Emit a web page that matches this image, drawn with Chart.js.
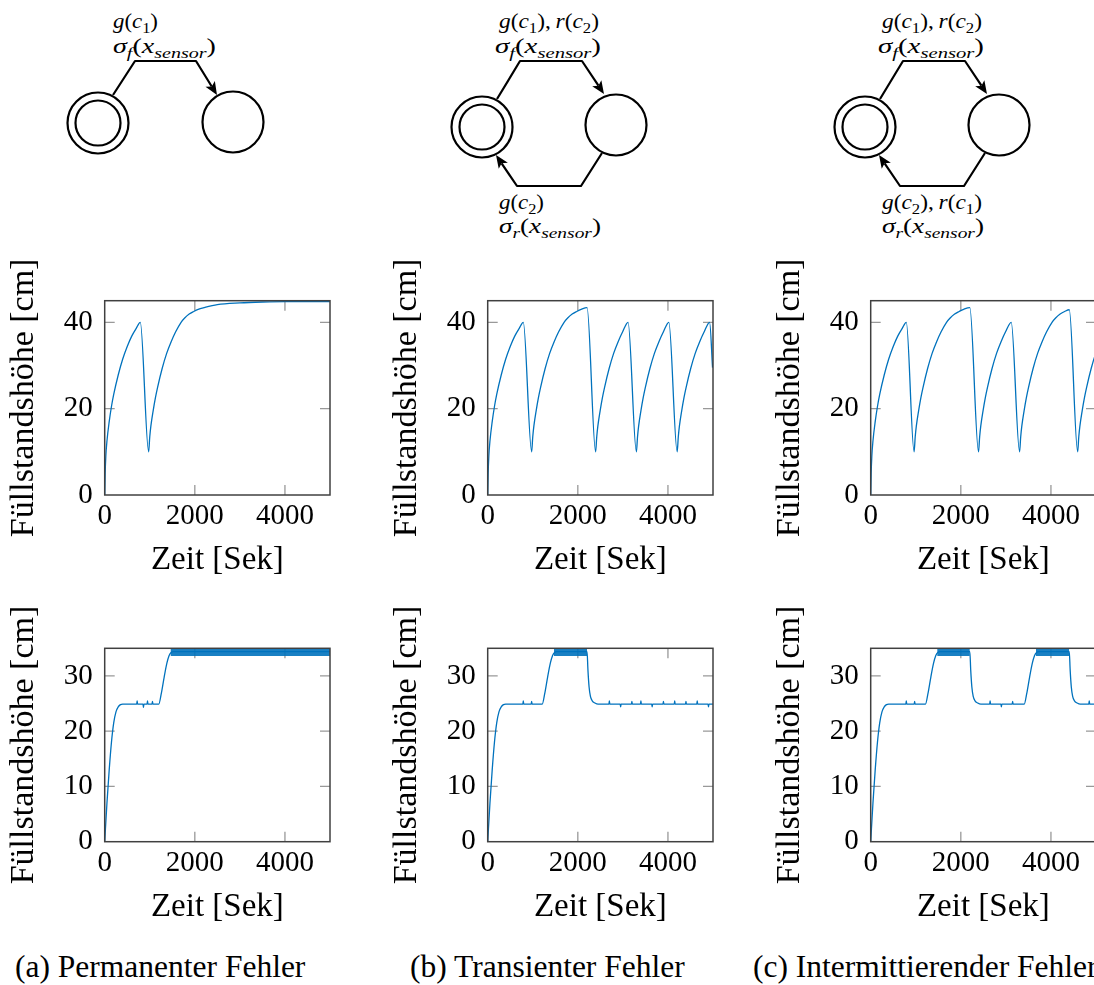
<!DOCTYPE html>
<html>
<head>
<meta charset="utf-8">
<script src="https://cdn.jsdelivr.net/npm/chart.js@4.4.0/dist/chart.umd.min.js"></script>
<style>
html, body { margin: 0; padding: 0; background: #fff; overflow: hidden; }
body { width: 1094px; height: 985px; position: relative; }
svg { position: absolute; left: 0; top: 0; }
canvas { position: absolute; }
</style>
</head>
<body>
<svg id="figure" width="1094" height="985"></svg>
<canvas id="topA" width="345" height="330" style="left:0px;top:250px"></canvas>
<canvas id="botA" width="345" height="327" style="left:0px;top:600px"></canvas>
<canvas id="topB" width="345" height="330" style="left:383px;top:250px"></canvas>
<canvas id="botB" width="345" height="327" style="left:383px;top:600px"></canvas>
<canvas id="topC" width="345" height="330" style="left:766px;top:250px"></canvas>
<canvas id="botC" width="345" height="327" style="left:766px;top:600px"></canvas>
<script>
// tick values
var xTickValues = [0, 2000, 4000];
var levelTicksTop = [0, 20, 40];
var levelTicksBottom = [0, 10, 20, 30];
var bandLevels = [33.6, 35];

// (a) permanent fault
var permTopTime  = [0,10,25,50,100,150,200,300,400,500,600,700,790, 975,1000,1025,1075,1125,1175,1275,1375,1475,1575,1695,1775,1875,1975,2075,2205, 2500,3000,3500,4000,5000];
var permTopLevel = [0,5,9,12.5,17,20.5,23.3,27.8,31.5,34.4,36.8,38.6,40, 10,13.5,16,19.5,22.5,25,29.3,32.8,35.5,37.8,40,41,41.9,42.5,43,43.4, 44.1,44.5,44.7,44.8,44.8];
var permBotTime  = [0,50,100,150,200,250,300,350,400, 710,720,730, 850,860,870, 940,950,960, 1050,1060,1070, 1200,1260,1320,1380,1430,1480,1520,5000];
var permBotLevel = [0,7,13,18,21.5,23.5,24.4,24.8,24.9, 24.9,25.5,24.9, 24.9,24.3,24.9, 24.9,25.5,24.9, 24.9,25.4,24.9, 24.9,27,29.8,32.3,33.7,34.3,34.4,34.4];
var permBands = [[1460, 5000]];

// (b) transient fault
var transTopTime  = [0,10,25,50,100,150,200,300,400,500,600,700,790,
  975,1000,1025,1075,1125,1175,1275,1375,1475,1575,1695,1775,1875,1975,2075,2205,
  2395,2420,2445,2495,2545,2595,2695,2795,2895,2995,3115,
  3300,3325,3350,3400,3450,3500,3600,3700,3800,3900,4020,
  4205,4230,4255,4305,4355,4405,4505,4605,4705,4805,4925, 4990];
var transTopLevel = [0,5,9,12.5,17,20.5,23.3,27.8,31.5,34.4,36.8,38.6,40,
  10,13.5,16,19.5,22.5,25,29.3,32.8,35.5,37.8,40,41,41.9,42.5,43,43.4,
  10,13.5,16,19.5,22.5,25,29.3,32.8,35.5,37.8,40,
  10,13.5,16,19.5,22.5,25,29.3,32.8,35.5,37.8,40,
  10,13.5,16,19.5,22.5,25,29.3,32.8,35.5,37.8,40, 29.5];
var transBotTime  = [0,50,100,150,200,250,300,350,400, 780,790,800, 965,975,985,
  1210,1270,1330,1390,1440,1490,1530, 2205,2225,2250,2280,2320,2380,2450,
  2690,2700,2710, 2940,2950,2960, 3190,3200,3210, 3390,3400,3410, 3640,3650,3660,
  3890,3900,3910, 4140,4150,4160, 4390,4400,4410, 4640,4650,4660, 4890,4900,4910, 5000];
var transBotLevel = [0,7,13,18,21.5,23.5,24.4,24.8,24.9, 24.9,25.5,24.9, 24.9,25.4,24.9,
  24.9,27,29.8,32.3,33.7,34.3,34.4, 34.4,31,28,26.3,25.5,25.1,24.9,
  24.9,25.5,24.9, 24.9,24.4,24.9, 24.9,25.4,24.9, 24.9,25.5,24.9, 24.9,24.4,24.9,
  24.9,25.4,24.9, 24.9,25.5,24.9, 24.9,25.4,24.9, 24.9,25.5,24.9, 24.9,24.4,24.9, 24.9];
var transBands = [[1470, 2205]];

// (c) intermittent fault
var interTopTime  = [0,10,25,50,100,150,200,300,400,500,600,700,790,
  963,988,1013,1063,1113,1163,1263,1363,1463,1563,1683,1763,1863,1963,2063,2200,
  2393,2418,2443,2493,2543,2593,2693,2793,2893,2993,3119,
  3304,3329,3354,3404,3454,3504,3604,3704,3804,3904,4024,4104,4204,4304,4407,
  4593,4618,4643,4693,4743,4793,4893,4993,5000];
var interTopLevel = [0,5,9,12.5,17,20.5,23.3,27.8,31.5,34.4,36.8,38.6,40,
  10,13.5,16,19.5,22.5,25,29.3,32.8,35.5,37.8,40,41,41.9,42.5,43,43.4,
  10,13.5,16,19.5,22.5,25,29.3,32.8,35.5,37.8,40,
  10,13.5,16,19.5,22.5,25,29.3,32.8,35.5,37.8,40,41,41.9,42.5,42.9,
  10,13.5,16,19.5,22.5,25,29.3,32.8,33];
var interBotTime  = [0,50,100,150,200,250,300,350,400, 780,790,800, 965,975,985,
  1215,1275,1335,1395,1445,1495,1535, 2200,2220,2245,2275,2315,2375,2445,
  2640,2650,2660, 2890,2900,2910, 3140,3150,3160,
  3407,3467,3527,3587,3637,3687,3727, 4407,4427,4452,4482,4522,4582,4652,
  4840,4850,4860, 5000];
var interBotLevel = [0,7,13,18,21.5,23.5,24.4,24.8,24.9, 24.9,25.5,24.9, 24.9,25.4,24.9,
  24.9,27,29.8,32.3,33.7,34.3,34.4, 34.4,31,28,26.3,25.5,25.1,24.9,
  24.9,25.5,24.9, 24.9,24.4,24.9, 24.9,25.4,24.9,
  24.9,27,29.8,32.3,33.7,34.3,34.4, 34.4,31,28,26.3,25.5,25.1,24.9,
  24.9,25.5,24.9, 24.9];
var interBands = [[1475, 2200], [3667, 4407]];

var blue = '#0072bd';
var serif = "'Liberation Serif', Tinos, 'Times New Roman', serif";

// pgfplots style box with inner tick marks on all sides
var framePlugin = {
  id: 'frame',
  beforeDatasetsDraw: function(chart) {
    var ctx = chart.ctx, a = chart.chartArea, sx = chart.scales.x, sy = chart.scales.y;
    ctx.save();
    ctx.strokeStyle = '#999';
    ctx.lineWidth = 1.3;
    ctx.beginPath();
    sx.ticks.forEach(function(t) {
      var px = sx.getPixelForValue(t.value);
      if (px - a.left < 1 || a.right - px < 1) return;
      ctx.moveTo(px, a.bottom); ctx.lineTo(px, a.bottom - 10);
      ctx.moveTo(px, a.top); ctx.lineTo(px, a.top + 10);
    });
    sy.ticks.forEach(function(t) {
      var py = sy.getPixelForValue(t.value);
      if (a.bottom - py < 1 || py - a.top < 1) return;
      ctx.moveTo(a.left, py); ctx.lineTo(a.left + 10, py);
      ctx.moveTo(a.right, py); ctx.lineTo(a.right - 10, py);
    });
    ctx.stroke();
    ctx.restore();
  },
  afterDraw: function(chart) {
    var ctx = chart.ctx, a = chart.chartArea;
    ctx.save();
    ctx.strokeStyle = '#404040';
    ctx.lineWidth = 1.5;
    ctx.strokeRect(a.left, a.top, a.right - a.left, a.bottom - a.top);
    ctx.restore();
  }
};

function makeChart(id, time, level, bands, yMax, yTicks, padTop, xHeight) {
  var datasets = [{
    data: time.map(function(t, i) { return {x: t, y: level[i]}; }),
    borderColor: blue,
    borderWidth: 1.3,
    pointRadius: 0,
    fill: false,
    cubicInterpolationMode: 'monotone'
  }];
  bands.forEach(function(b) {
    datasets.push({
      data: b.map(function(t) { return {x: t, y: bandLevels[0]}; }),
      borderWidth: 0, pointRadius: 0, fill: false
    });
    datasets.push({
      data: b.map(function(t) { return {x: t, y: bandLevels[1]}; }),
      borderWidth: 0, pointRadius: 0, fill: '-1',
      backgroundColor: 'rgba(0,114,189,0.9)'
    });
  });

  return new Chart(document.getElementById(id), {
    type: 'line',
    data: {datasets: datasets},
    options: {
      responsive: false,
      animation: false,
      events: [],
      layout: {padding: {top: padTop, right: 15, left: 0, bottom: 0}},
      plugins: {legend: {display: false}, tooltip: {enabled: false}},
      scales: {
        x: {
          type: 'linear', min: 0, max: 5000,
          afterBuildTicks: function(s) { s.ticks = xTickValues.map(function(v) { return {value: v}; }); },
          afterFit: function(s) { s.height = xHeight; },
          grid: {display: false, drawTicks: false},
          border: {display: false},
          ticks: {
            color: '#000', padding: 4, autoSkip: false, maxRotation: 0,
            font: {family: serif, size: 29, lineHeight: 1.2},
            callback: function(v) { return String(v); }
          },
          title: {
            display: true, text: 'Zeit [Sek]', color: '#000',
            padding: {top: 0, bottom: 0},
            font: {family: serif, size: 33, lineHeight: 1.2}
          }
        },
        y: {
          type: 'linear', min: 0, max: yMax,
          afterBuildTicks: function(s) { s.ticks = yTicks.map(function(v) { return {value: v}; }); },
          afterFit: function(s) { s.width = 104.7; },
          grid: {display: false, drawTicks: false},
          border: {display: false},
          ticks: {
            color: '#000', padding: 12, autoSkip: false,
            font: {family: serif, size: 29, lineHeight: 1.2},
            callback: function(v) { return String(v); }
          },
          title: {
            display: true, text: 'Füllstandshöhe [cm]', color: '#000',
            padding: {top: 4, bottom: 0},
            font: {family: serif, size: 34, lineHeight: 1.2}
          }
        }
      }
    },
    plugins: [framePlugin]
  });
}

makeChart('topA', permTopTime, permTopLevel, [], 45, levelTicksTop, 50.7, 85);
makeChart('botA', permBotTime, permBotLevel, permBands, 35, levelTicksBottom, 48.3, 85.3);
makeChart('topB', transTopTime, transTopLevel, [], 45, levelTicksTop, 50.7, 85);
makeChart('botB', transBotTime, transBotLevel, transBands, 35, levelTicksBottom, 48.3, 85.3);
makeChart('topC', interTopTime, interTopLevel, [], 45, levelTicksTop, 50.7, 85);
makeChart('botC', interBotTime, interBotLevel, interBands, 35, levelTicksBottom, 48.3, 85.3);

// automaton sketches and captions
var svg = document.getElementById('figure');
var NS = 'http://www.w3.org/2000/svg';
function el(name, attrs, parent) {
  var e = document.createElementNS(NS, name);
  for (var k in attrs) e.setAttribute(k, attrs[k]);
  (parent || svg).appendChild(e);
  return e;
}
function state(cx, cy, initial) {
  el('circle', {cx: cx, cy: cy, r: 30.5, fill: 'none', stroke: '#000', 'stroke-width': 2.2});
  if (initial) el('circle', {cx: cx, cy: cy, r: 22.5, fill: 'none', stroke: '#000', 'stroke-width': 2.2});
}
function edge(pts) {
  var n = pts.length, tip = pts[n - 1], prev = pts[n - 2];
  var dx = tip[0] - prev[0], dy = tip[1] - prev[1], len = Math.hypot(dx, dy);
  var ux = dx / len, uy = dy / len, L = 13, W = 5.5;
  var bx = tip[0] - ux * L, by = tip[1] - uy * L;
  var d = 'M' + pts[0][0] + ' ' + pts[0][1];
  for (var i = 1; i < n - 1; i++) d += ' L' + pts[i][0] + ' ' + pts[i][1];
  d += ' L' + (bx + ux * 3) + ' ' + (by + uy * 3);
  el('path', {d: d, fill: 'none', stroke: '#000', 'stroke-width': 2.2, 'stroke-linejoin': 'round'});
  el('path', {d: 'M' + tip[0] + ' ' + tip[1] + ' L' + (bx - uy * W) + ' ' + (by + ux * W) +
    ' L' + (bx + ux * 3) + ' ' + (by + uy * 3) + ' L' + (bx + uy * W) + ' ' + (by - ux * W) + ' Z', fill: '#000'});
}
// parts: [text, kind]  kind: i italic, r roman, si subscript italic, sr subscript roman
function mathText(x, y, parts, width) {
  var t = el('text', {x: x, y: y, 'font-family': serif, 'font-size': 21, fill: '#000',
    textLength: width, lengthAdjust: 'spacingAndGlyphs'});
  var low = false;
  parts.forEach(function(p) {
    var sub = p[1].charAt(0) === 's';
    var a = {'font-style': p[1].slice(-1) === 'i' ? 'italic' : 'normal'};
    if (sub) a['font-size'] = 15;
    if (sub && !low) a.dy = 5;
    if (!sub && low) a.dy = -5;
    low = sub;
    var s = el('tspan', a, t);
    s.textContent = p[0];
  });
}
var gc1 = [['g','i'],['(','r'],['c','i'],['1','sr'],[')','r']];
var gc2 = [['g','i'],['(','r'],['c','i'],['2','sr'],[')','r']];
var rc1 = [[',\u2009','r'],['r','i'],['(','r'],['c','i'],['1','sr'],[')','r']];
var rc2 = [[',\u2009','r'],['r','i'],['(','r'],['c','i'],['2','sr'],[')','r']];
var sigF = [['\u03c3','i'],['f','si'],['(','r'],['x','i'],['sensor','si'],[')','r']];
var sigR = [['\u03c3','i'],['r','si'],['(','r'],['x','i'],['sensor','si'],[')','r']];

// (a)
state(98, 123, true); state(233, 122, false);
edge([[113, 95], [135, 61], [196, 61], [217, 95]]);
mathText(113, 28, gc1, 45); mathText(113, 53, sigF, 103);
// (b) and (c)
[[0, gc1.concat(rc2), gc2, 45], [383, gc1.concat(rc2), gc2.concat(rc1), 100]].forEach(function(c) {
  var o = c[0];
  state(482 + o, 127, true); state(616 + o, 125, false);
  edge([[497 + o, 99], [520 + o, 61], [582 + o, 61], [604 + o, 94]]);
  edge([[602 + o, 153], [581 + o, 186], [517 + o, 186], [496 + o, 155]]);
  mathText(499 + o, 28, c[1], 100); mathText(495 + o, 53, sigF, 106);
  mathText(499 + o, 209, c[2], c[3]); mathText(499 + o, 233, sigR, 102);
});

[[15, '(a) Permanenter Fehler'], [410, '(b) Transienter Fehler'], [753, '(c) Intermittierender Fehler']].forEach(function(c) {
  var t = el('text', {x: c[0], y: 977, 'font-family': serif, 'font-size': 31.5, fill: '#000'});
  t.textContent = c[1];
});
</script>
</body>
</html>
